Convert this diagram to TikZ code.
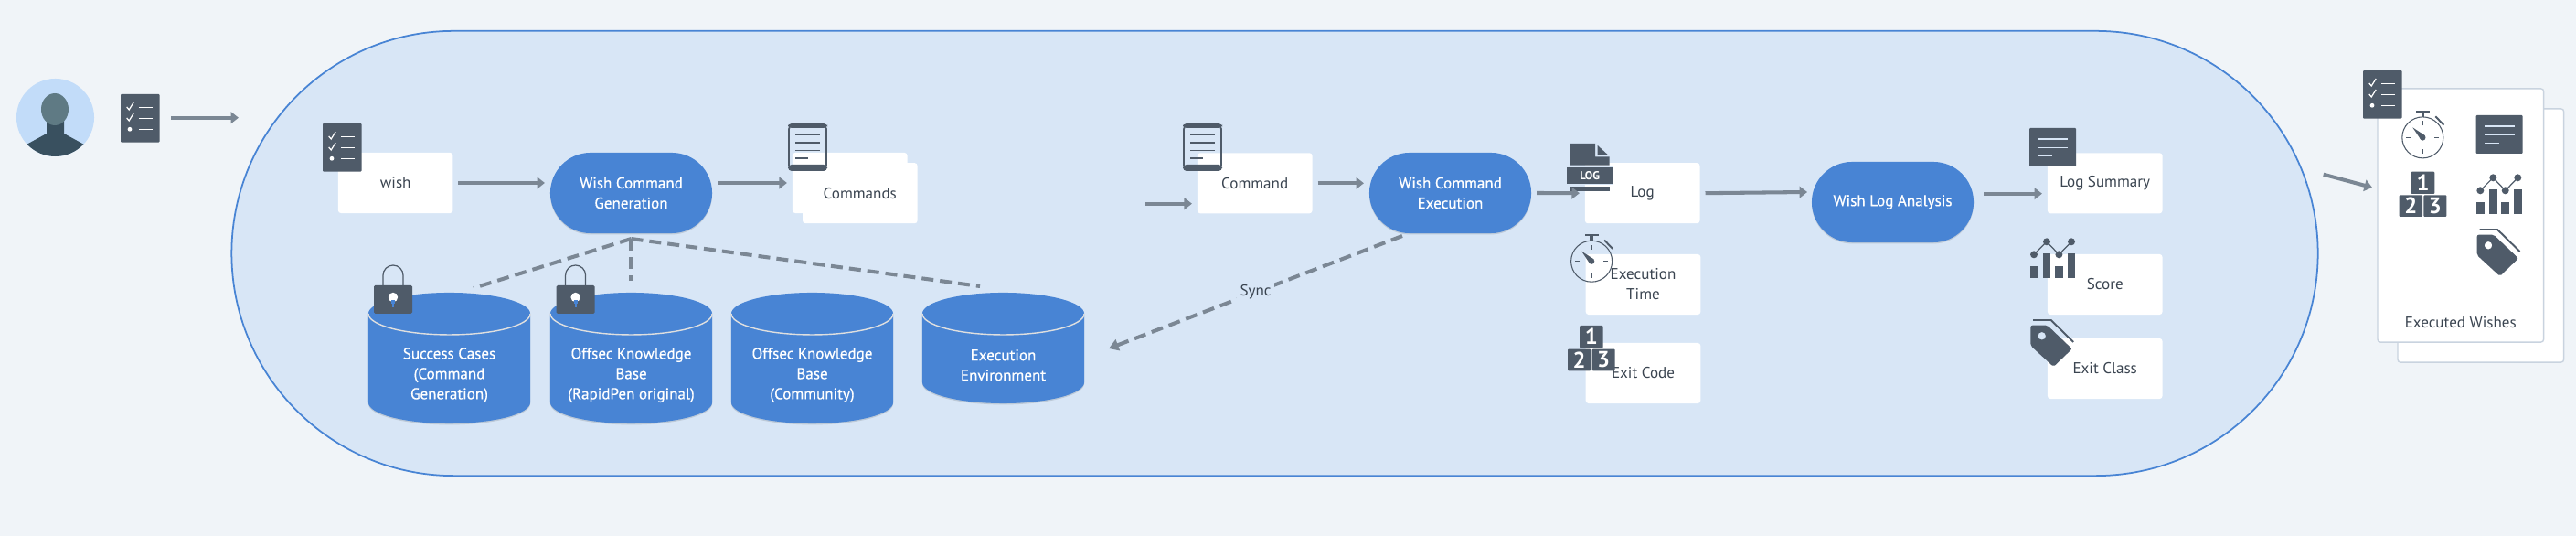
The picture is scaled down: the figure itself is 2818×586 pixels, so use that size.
\documentclass[tikz,border=0pt]{standalone}
\usepackage{fontspec}
\setmainfont{PT Sans}
\newfontfamily\heavyfont[FakeBold=0.5]{PT Sans}
\usetikzlibrary{arrows.meta,shapes.geometric,shadows}

\definecolor{pagebg}{HTML}{F0F4F8}
\definecolor{loopfill}{HTML}{D8E6F6}
\definecolor{procblue}{HTML}{4884D4}
\definecolor{icondark}{HTML}{4F5B69}
\definecolor{flowgray}{HTML}{7B8794}
\definecolor{cardline}{HTML}{C9D3DF}
\definecolor{textdark}{HTML}{3A4450}
\definecolor{personbg}{HTML}{C2DCF9}
\definecolor{personhead}{HTML}{5F7A84}
\definecolor{personbody}{HTML}{39505F}

\tikzset{
  softshadow/.style={drop shadow={shadow xshift=0pt,shadow yshift=-.4pt,opacity=.12,fill=black}},
  label/.style={font=\fontsize{4.85}{6.26}\selectfont,align=center,inner sep=0pt},
  whitelabel/.style={font=\heavyfont\fontsize{4.85}{6.26}\selectfont,align=center,inner sep=0pt,text=white},
  databox/.style={label,text=textdark,fill=white,rounded corners=.03cm,minimum width=1.255cm,minimum height=.66cm,outer sep=.06cm},
  procnode/.style={whitelabel,fill=procblue,rounded corners=.44cm,minimum width=1.77cm,minimum height=.88cm,outer sep=.06cm,softshadow},
  dbcyl/.style={cylinder,shape border rotate=90,shape aspect=.26,fill=procblue,anchor=shape center,inner sep=0pt,outer sep=0pt,softshadow},
  cardbox/.style={fill=white,draw=cardline,line width=.4pt,rounded corners=.03cm,minimum width=1.815cm,minimum height=2.77cm},
  flow/.style={draw=flowgray,line width=1.15pt,-{Triangle[length=2.4pt,width=3.6pt]}},
  dashlink/.style={draw=flowgray,line width=1.15pt,dash pattern=on 3.7pt off 2pt},
  iconfill/.style={fill=icondark},
  iconline/.style={draw=white,line width=.3pt},
  listicon/.pic={
    \fill[iconfill,rounded corners=.01cm] (0,0) rectangle (42.5,52.6);
    \foreach \y in {10,22} \draw[iconline,line width=.35pt] (6.7,\y+4) -- ++(2.5,3) -- ++(5,-8);
    \foreach \y in {14.3,26.3,38.3} \draw[iconline,line width=.35pt] (20,\y) -- (35,\y);
    \fill[white] (10,38.3) circle [radius=2.4];
  },
  tableticon/.pic={
    \draw[icondark,line width=.5pt,rounded corners=.05cm] (1,1) rectangle (42,51);
    \fill[iconfill,rounded corners=.04cm] (0,45) -- (43,45) -- (43,52) -- (0,52) -- cycle;
    \fill[iconfill,rounded corners=.04cm] (0,5) -- (43,5) -- (43,0) -- (0,0) -- cycle;
    \foreach \y in {12.7,21,29.3} \draw[icondark,line width=.35pt] (8,\y) -- (35,\y);
    \draw[icondark,line width=.35pt] (8,38) -- (22,38);
  },
  logicon/.pic={
    \fill[iconfill] (4.3,0) -- (31.5,0) -- (31.5,14.5) -- (47,14.5) -- (47,23.7) -- (4.3,23.7) -- cycle;
    \fill[iconfill] (34,2) -- (46,13) -- (34,13) -- cycle;
    \fill[iconfill,draw=loopfill,line width=.15pt] (0,25.3) rectangle (51,44.7);
    \fill[iconfill] (4.3,47) rectangle (47,52);
    \node[text=white,inner sep=0pt,font=\bfseries\fontsize{3.6}{4}\selectfont] (logword) at (25.5,35) {LOG};
  },
  watchicon/.pic={
    \draw[icondark,line width=.3pt] (23.6,29.7) circle [radius=22.5];
    \fill[iconfill] (16,0) rectangle (31.3,2.2);
    \fill[iconfill] (21.9,2) rectangle (25.3,7);
    \draw[icondark,line width=.55pt] (37.6,6.6) -- (46.6,16);
    \foreach \a in {0,90,180,270} \draw[icondark,line width=.3pt] (23.6,29.7) ++(\a:13) -- ++(\a:5);
    \fill[iconfill] (12.6,18.7) -- (26,27.4) -- (21.5,32) -- cycle;
    \fill[iconfill] (23.6,29.7) circle [radius=3.2];
  },
  rankicon/.pic={
    \fill[iconfill,rounded corners=.01cm] (13,0) rectangle (38.7,24.3);
    \fill[iconfill,rounded corners=.01cm] (0,25.7) rectangle (25.3,49.3);
    \fill[iconfill,rounded corners=.01cm] (26.7,25.7) rectangle (51.7,49.3);
    \node[text=white,inner sep=0pt,font=\bfseries\fontsize{7}{8}\selectfont] (rankone) at (25.8,12.2) {1};
    \node[text=white,inner sep=0pt,font=\bfseries\fontsize{7}{8}\selectfont] (ranktwo) at (12.7,37.5) {2};
    \node[text=white,inner sep=0pt,font=\bfseries\fontsize{7}{8}\selectfont] (rankthree) at (39.2,37.5) {3};
  },
  sumicon/.pic={
    \fill[iconfill,rounded corners=.01cm] (0,0) rectangle (51,42);
    \draw[loopfill,line width=.3pt] (9.3,12) -- (42,12);
    \draw[loopfill,line width=.3pt] (9.3,21.3) -- (42,21.3);
    \draw[loopfill,line width=.3pt] (9.3,30.7) -- (25.3,30.7);
  },
  charticon/.pic={
    \fill[iconfill] (.3,30.7) rectangle (9,44);
    \fill[iconfill] (14,17.3) rectangle (22.7,44);
    \fill[iconfill] (27.3,30.7) rectangle (36,44);
    \fill[iconfill] (41,17.3) rectangle (49.7,44);
    \draw[icondark,line width=.35pt] (4.3,18.3) -- (18.3,4.3) -- (31.7,18.3) -- (45.3,4.3);
    \foreach \x/\y in {4.3/18.3,18.3/4.3,31.7/18.3,45.3/4.3} \fill[iconfill] (\x,\y) circle [radius=4];
  },
  tagicon/.pic={
    \fill[iconfill,even odd rule,rounded corners=.02cm] (.7,6.7) -- (19,6.7) -- (46,32.5) -- (25.7,52) -- (.7,29) -- cycle (13,18.3) circle [radius=4.3];
    \draw[icondark,line width=.55pt] (3.5,1) -- (23,1) -- (47.5,25);
  },
  lockicon/.pic={
    \draw[icondark,line width=.35pt] (10,22) -- (10,11) arc [start angle=180,end angle=360,radius=11] -- (32,22);
    \fill[iconfill,rounded corners=.015cm] (0,22) rectangle (42,53);
    \fill[procblue] (20,34) rectangle (22,46);
    \fill[white] (21,35) circle [radius=5.2];
    \fill[procblue] (19,38.5) rectangle (23,42);
  },
}

\begin{document}
\begin{tikzpicture}[x=.01cm,y=-.01cm]
  \useasboundingbox[fill=pagebg] (0,0) rectangle (2818,586);

  % outer loop
  \node[fill=loopfill,draw=procblue,line width=.5pt,rounded corners=2.43cm,minimum width=22.81cm,minimum height=4.86cm,inner sep=0pt] (loopbg) at (1394.5,277) {};

  % person on the left
  \node[circle,fill=personbg,minimum size=.85cm,inner sep=0pt] (person) at (60.5,128.5) {};
  \begin{scope}
    \clip (60.5,128.5) circle [radius=42.5];
    \fill[personbody] (51,130) -- (70,130) -- (70,146) -- (92,158) -- (92,175) -- (29,175) -- (29,158) -- (51,146) -- cycle;
    \fill[personhead] (60,119.5) ellipse [x radius=15,y radius=17.5];
  \end{scope}
  \pic at (132,103) {listicon};

  % wish command generation
  \node[databox] (wishbox) at (432.7,200) {wish};
  \pic at (353,135) {listicon};
  \node[procnode] (wcg) at (690.5,211) {Wish Command\\Generation};
  \node[databox] (cmdsback) at (929.7,200) {};
  \node[databox] (cmdsfront) at (940.8,211.2) {Commands};
  \pic at (862,135) {tableticon};

  % knowledge stores
  \node[dbcyl,minimum height=1.43cm] (successdb) at (491.5,391.5) {\hspace*{1.77cm}};
  \node[dbcyl,minimum height=1.43cm] (offsecdb) at (690.5,391.5) {\hspace*{1.77cm}};
  \node[dbcyl,minimum height=1.43cm] (communitydb) at (888.5,391.5) {\hspace*{1.77cm}};
  \node[dbcyl,minimum height=1.21cm] (execdb) at (1097.5,380.5) {\hspace*{1.77cm}};
  \foreach \n in {successdb,offsecdb,communitydb,execdb}
    \draw[white!75!gray,line width=.4pt] (\n.after top) arc [start angle=0,end angle=180,x radius=88.5,y radius=23];
  \node[whitelabel] (successtext) at (491.5,410.2) {Success Cases\\(Command\\Generation)};
  \node[whitelabel] (offsectext) at (690.5,410.2) {Offsec Knowledge\\Base\\(RapidPen original)};
  \node[whitelabel] (communitytext) at (888.5,410.2) {Offsec Knowledge\\Base\\(Community)};
  \node[whitelabel] (exectext) at (1097.5,399.2) {Execution\\Environment};
  \pic at (409,290) {lockicon};
  \pic at (608.6,290) {lockicon};

  % wish command execution
  \node[databox] (cmdbox) at (1372.7,200.3) {Command};
  \pic at (1294,135) {tableticon};
  \node[procnode] (execnode) at (1586.5,211) {Wish Command\\Execution};
  \node[databox] (logbox) at (1796.7,211.2) {Log};
  \node[databox] (timebox) at (1797.5,311) {Execution\\Time};
  \node[databox] (codebox) at (1797.5,408) {Exit Code};
  \pic at (1713.7,157) {logicon};
  \pic at (1717.5,256) {watchicon};
  \pic at (1715,356) {rankicon};

  % wish log analysis
  \node[procnode] (analysis) at (2070.5,221) {Wish Log Analysis};
  \node[databox] (sumbox) at (2302.7,200.3) {Log Summary};
  \node[databox] (scorebox) at (2302.7,311) {Score};
  \node[databox] (classbox) at (2302.7,403) {Exit Class};
  \pic at (2220,140) {sumicon};
  \pic at (2220.7,260) {charticon};
  \pic at (2220.7,349) {tagicon};

  % executed wishes
  \node[cardbox] (cardback) at (2713.8,257.5) {};
  \node[cardbox] (cardfront) at (2691.8,235.5) {};
  \node[label,text=textdark] (cardtitle) at (2691.7,352.7) {Executed Wishes};
  \pic at (2585,77) {listicon};
  \pic at (2626.7,120.7) {watchicon};
  \pic at (2708.7,126) {sumicon};
  \pic at (2624.7,187.7) {rankicon};
  \pic at (2709,190) {charticon};
  \pic at (2709,250) {tagicon};

  % free connector ends
  \coordinate (requestfrom) at (187,128.7);
  \coordinate (requestto) at (261,128.7);
  \coordinate (cmdfrom) at (1253,222.7);
  \coordinate (successtop) at (518,315);
  \coordinate (offsectop) at (690.5,306.7);
  \coordinate (exectop) at (1072,313);
  \coordinate (syncfrom) at (1534,258);
  \coordinate (syncto) at (1213,381);
  \coordinate (analysisin) at (1977,210);
  \coordinate (analysisout) at (2170,211.7);
  \coordinate (resultfrom) at (2541.7,190.7);
  \coordinate (resultto) at (2595,205);

  % connectors
  \draw[flow] (requestfrom) -- (requestto);
  \draw[flow] (wishbox.east) -- (wishbox.east -| wcg.west);
  \draw[flow] (cmdsback.west -| wcg.east) -- (cmdsback.west);
  \draw[flow] (cmdfrom) -- (cmdfrom -| cmdbox.west);
  \draw[flow] (cmdbox.east) -- (cmdbox.east -| execnode.west);
  \draw[flow] (execnode.east) -- (logbox.west);
  \draw[flow] (logbox.east) -- (analysisin);
  \draw[flow] (analysisout) -- (analysisout -| sumbox.west);
  \draw[flow] (resultfrom) -- (resultto);
  \draw[dashlink] (wcg.south) -- (successtop);
  \draw[dashlink] (wcg.south) -- (offsectop);
  \draw[dashlink] (wcg.south) -- (exectop);
  \draw[dashlink,-{Triangle[length=3pt,width=3.6pt]}] (syncfrom) -- node[label,text=textdark,fill=loopfill,inner xsep=1pt,inner ysep=1.5pt] (synclabel) {Sync} (syncto);
\end{tikzpicture}
\end{document}
